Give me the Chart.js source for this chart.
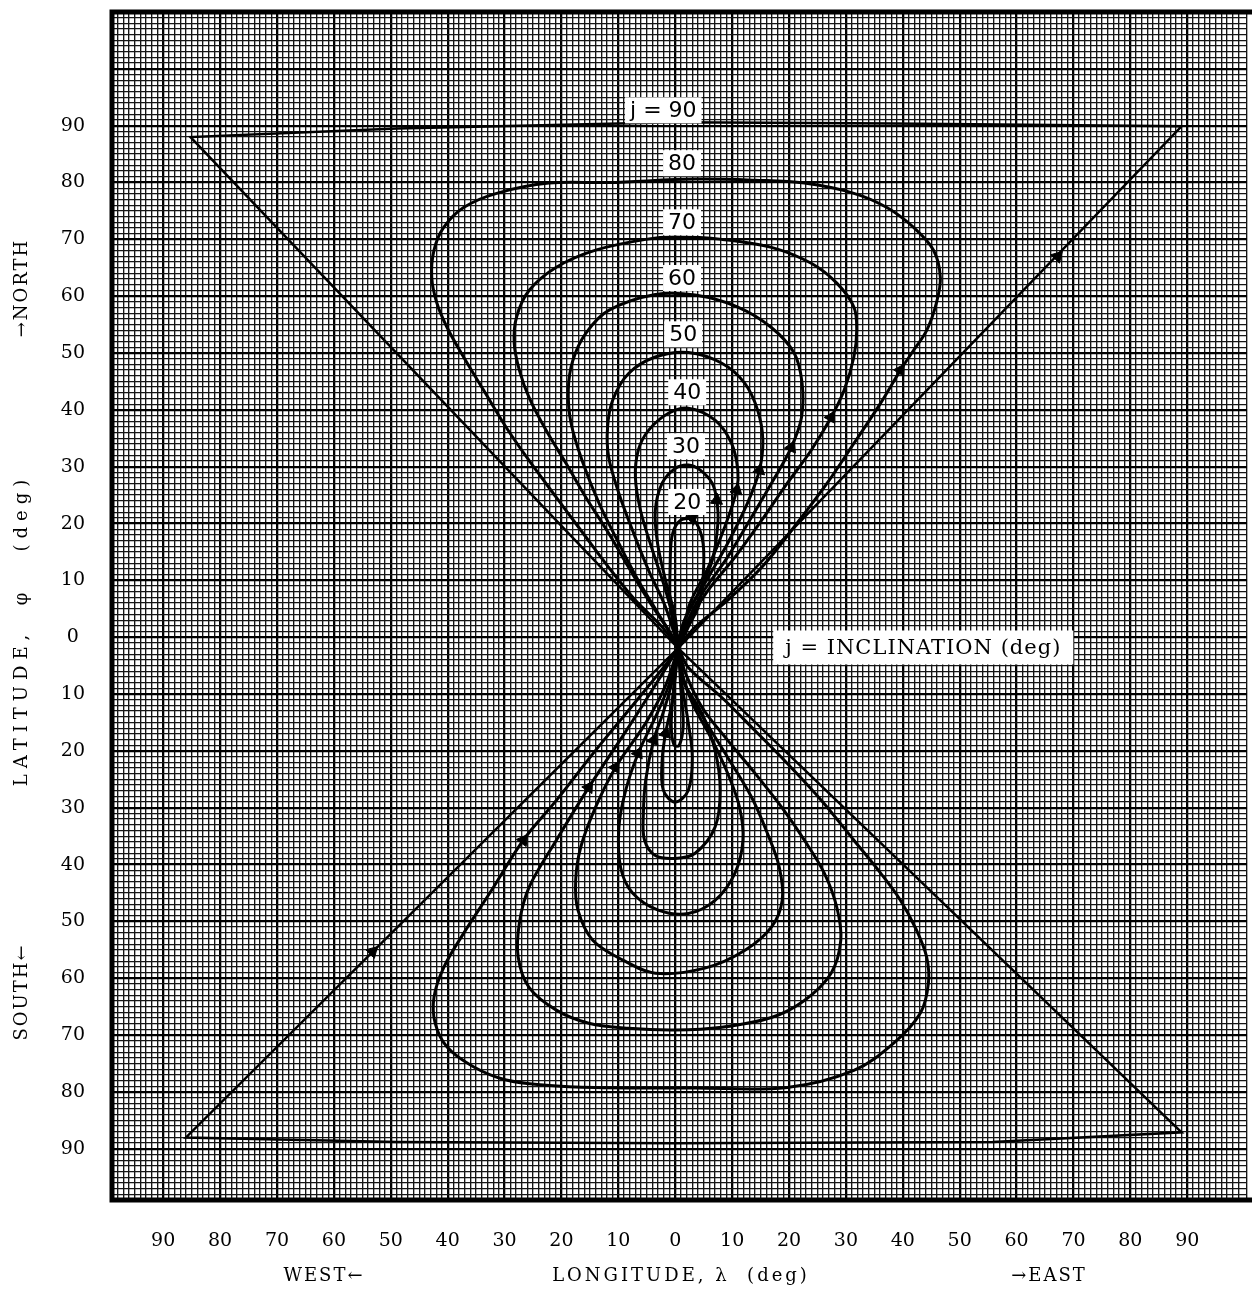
<!DOCTYPE html>
<html>
<head>
<meta charset="utf-8">
<script src="https://cdn.jsdelivr.net/npm/chart.js@4.4.1/dist/chart.umd.min.js"></script>
<style>
  html, body { margin: 0; padding: 0; background: #fff; }
  #wrap { width: 1255px; height: 1292px; }
</style>
</head>
<body>
<div id="wrap"><canvas id="trackChart" width="1255" height="1292"></canvas></div>
<script>
// ground tracks for each inclination j, points are [longitude, latitude] in deg
// (east and north positive)
const inclinations = [90, 80, 70, 60, 50, 40, 30, 20];

const track90 = [
  [0.5, -1.9], [89.0, 89.9], [38.4, 90.4], [0, 90.6], [-48.9, 89.5], [-85.2, 88.0],
  [0.5, -1.9], [89.0, -87.1], [55.8, -88.8], [0, -89.0], [-48.9, -88.8], [-86.0, -88.0],
  [0.5, -1.9]
];
const track80 = [
  [0.5, -1.9], [3.5, 1.8], [9.2, 6.5], [15.2, 12.3], [20.9, 19.4], [26.7, 27.1], [31.4, 34.1],
  [36.1, 41.2], [39.6, 47.0], [41.9, 50.5], [44.2, 54.0], [45.9, 58.8], [46.6, 63.3], [45.4, 68.1],
  [41.9, 72.1], [37.2, 75.6], [31.4, 78.1], [22.7, 79.9], [14.0, 80.4], [3.5, 80.6], [-11.7, 80.0],
  [-22.2, 79.9], [-31.4, 78.1], [-37.2, 75.6], [-40.7, 72.1], [-42.4, 68.1], [-42.8, 63.3],
  [-41.9, 58.8], [-40.1, 54.5], [-37.2, 49.3], [-33.7, 43.5], [-29.7, 36.9], [-25.7, 31.1],
  [-20.9, 24.6], [-16.2, 18.3], [-11.7, 12.3], [-7.0, 6.5], [-2.3, 1.8],
  [0.5, -1.9],
  [2.3, -5.3], [8.2, -10.6], [14.0, -16.4], [19.7, -22.2], [25.7, -28.7], [31.4, -35.7],
  [36.1, -41.5], [39.6, -46.3], [42.4, -51.5], [44.2, -56.3], [44.5, -60.9], [43.1, -66.1],
  [38.4, -71.4], [31.4, -76.2], [19.7, -79.2], [3.5, -79.3], [-14.0, -79.2], [-22.7, -78.8],
  [-29.7, -77.9], [-35.4, -75.6], [-40.1, -72.1], [-42.2, -67.9], [-42.4, -63.3], [-40.7, -58.1],
  [-37.2, -52.1], [-32.6, -45.0], [-26.7, -35.7], [-20.9, -28.7], [-14.0, -19.9], [-7.5, -12.0],
  [-2.3, -5.6], [0.5, -1.9]
];
const track70 = [
  [0.5, -1.9], [2.2, 2.5], [5.8, 8.3], [10.5, 14.1], [15.2, 20.6], [19.7, 27.1], [23.9, 32.9],
  [27.4, 38.7], [29.7, 43.5], [31.4, 49.3], [31.9, 54.0], [31.4, 58.1], [28.4, 62.3], [23.9, 65.8],
  [16.9, 68.6], [8.2, 70.0], [0, 70.4], [-5.2, 70.0], [-14.0, 68.1], [-20.9, 65.1], [-25.7, 61.0],
  [-27.9, 56.3], [-28.3, 51.7], [-27.4, 47.0], [-25.7, 42.2], [-22.7, 36.4], [-19.2, 30.6],
  [-15.7, 24.6], [-11.7, 18.3], [-8.2, 12.3], [-4.7, 6.5], [-1.2, 1.2],
  [0.5, -1.9],
  [1.8, -6.3], [4.7, -12.3], [9.2, -18.1], [14.0, -23.9], [18.7, -29.9], [22.7, -35.7],
  [26.2, -41.5], [28.4, -47.5], [29.1, -53.3], [27.4, -59.1], [22.7, -63.9], [16.9, -66.9],
  [8.2, -68.6], [0, -69.1], [-8.2, -68.8], [-15.2, -67.9], [-20.9, -65.6], [-25.7, -61.6],
  [-27.6, -56.3], [-27.4, -50.3], [-25.7, -44.0], [-20.9, -35.7], [-15.2, -26.4], [-8.2, -15.8],
  [-3.0, -7.6], [0.5, -1.9]
];
const track60 = [
  [0.5, -1.9], [2.0, 2.5], [4.7, 7.7], [9.2, 14.1], [13.4, 21.1], [17.5, 28.1], [20.4, 33.4],
  [22.2, 38.7], [22.3, 44.7], [20.9, 50.0], [16.9, 54.5], [11.0, 58.1], [3.5, 60.2], [-3.5, 60.3],
  [-11.7, 57.5], [-15.7, 53.5], [-18.0, 48.7], [-18.8, 43.5], [-18.3, 37.6], [-16.2, 30.6],
  [-13.4, 23.6], [-9.9, 16.5], [-6.5, 10.0], [-3.0, 4.2],
  [0.5, -1.9],
  [1.6, -8.1], [5.2, -14.6], [9.2, -21.1], [13.4, -28.1], [16.2, -34.5], [18.3, -40.5],
  [18.8, -46.3], [16.9, -51.0], [12.2, -55.1], [5.2, -58.2], [-3.5, -59.1], [-9.2, -56.8],
  [-14.5, -53.3], [-17.1, -48.0], [-17.5, -42.8], [-16.6, -36.9], [-14.0, -29.9], [-10.5, -22.9],
  [-5.2, -15.1], [-1.7, -8.5], [0.5, -1.9]
];
const track50 = [
  [0.5, -1.9], [1.6, 3.0], [5.2, 9.5], [9.2, 16.5], [12.7, 23.6], [14.8, 29.4], [15.4, 34.7],
  [14.5, 39.9], [12.2, 44.7], [8.2, 48.2], [2.3, 50.1], [-3.5, 49.3], [-8.2, 46.4], [-11.0, 41.7],
  [-11.9, 36.9], [-11.7, 31.7], [-9.9, 25.3], [-7.5, 18.8], [-4.7, 11.8], [-1.7, 5.3],
  [0.5, -1.9],
  [1.4, -7.0], [3.0, -11.6], [6.5, -18.1], [9.2, -23.9], [11.3, -29.9], [11.9, -35.7],
  [10.5, -41.5], [7.0, -46.3], [2.3, -48.6], [-3.0, -48.0], [-7.5, -45.0], [-9.6, -40.5],
  [-9.9, -33.4], [-8.7, -26.9], [-6.5, -20.4], [-3.0, -13.0], [-0.8, -7.5], [0.5, -1.9]
];
const track40 = [
  [0.5, -1.9], [1.4, 1.2], [2.6, 6.0], [5.8, 12.3], [8.7, 19.4], [10.8, 25.9], [11.0, 29.4],
  [9.9, 34.1], [7.0, 38.2], [2.3, 40.3], [-1.2, 39.4], [-4.7, 36.4], [-6.5, 32.9], [-7.0, 28.1],
  [-6.1, 22.3], [-4.0, 15.3], [-1.7, 8.3], [-0.2, 2.5],
  [0.5, -1.9],
  [1.4, -7.6], [4.7, -13.4], [7.0, -19.9], [7.9, -26.9], [7.0, -33.4], [3.5, -38.0], [0, -38.9],
  [-3.5, -38.4], [-5.4, -35.7], [-5.6, -31.0], [-5.2, -25.2], [-3.8, -18.1], [-2.1, -13.2],
  [-0.5, -7.6], [0.5, -1.9]
];
const track30 = [
  [0.5, -1.9], [1.2, 1.8], [4.0, 7.7], [6.5, 13.5], [7.5, 20.1], [7.3, 24.1], [6.5, 27.1],
  [4.4, 29.4], [2.3, 30.3], [0, 29.7], [-2.3, 27.1], [-3.5, 22.3], [-3.1, 16.5], [-1.7, 10.0],
  [0, 3.5],
  [0.5, -1.9],
  [1.2, -8.4], [2.3, -15.1], [3.0, -21.1], [2.3, -26.9], [0, -29.0], [-2.1, -26.9], [-2.3, -21.6],
  [-1.7, -16.9], [-0.5, -11.1], [0.5, -1.9]
];
const track20 = [
  [0.5, -1.9], [2.4, 2.0], [4.2, 5.8], [4.9, 10.6], [4.9, 16.5], [3.7, 20.1], [2.3, 20.9],
  [0.5, 20.2], [-0.6, 17.6], [-0.9, 12.3], [-0.9, 6.5], [-0.3, 2.0],
  [0.5, -1.9],
  [1.0, -9.3], [1.4, -15.5], [0.7, -19.0], [-0.2, -19.0], [-0.7, -15.5], [-0.3, -9.3], [0.5, -1.9]
];

// direction arrows drawn on the tracks
const arrowPoints = [
  [67.2, 67.0], [39.6, 47.0], [27.4, 38.7], [20.4, 33.4], [14.8, 29.4], [10.8, 25.9], [7.3, 24.1], [3.0, 20.9],
  [-53.2, -55.3], [-26.7, -35.7], [-15.2, -26.4], [-10.5, -22.9], [-6.5, -20.4], [-3.8, -18.1], [-1.7, -16.9]
];
const arrowHeading = [44, 32, 29, 24, 13, 13, 5, -70, 45, 36, 33, 31, 26, 21, 15];

// axis tick labels (absolute values are printed)
const lonTicks = [-90, -80, -70, -60, -50, -40, -30, -20, -10, 0, 10, 20, 30, 40, 50, 60, 70, 80, 90];
const latTicks = [-90, -80, -70, -60, -50, -40, -30, -20, -10, 0, 10, 20, 30, 40, 50, 60, 70, 80, 90];

// curve labels
const curveLabels = ['j = 90', '80', '70', '60', '50', '40', '30', '20'];
const labelLon = [-2.1, 1.2, 1.2, 1.2, 1.4, 2.1, 1.9, 2.1];
const labelLat = [92.7, 83.4, 73.0, 63.2, 53.3, 43.1, 33.6, 23.8];

const tracks = [track90, track80, track70, track60, track50, track40, track30, track20];

const datasets = tracks.map((t, i) => ({
  label: 'j = ' + inclinations[i],
  data: t.map(p => ({x: p[0], y: p[1]})),
  showLine: true,
  borderColor: '#000',
  borderWidth: inclinations[i] === 90 ? 2.5 : 3,
  tension: inclinations[i] === 90 ? 0 : 0.35,
  pointRadius: 0,
  fill: false
}));
datasets.push({
  label: 'arrows',
  data: arrowPoints.map(p => ({x: p[0], y: p[1]})),
  showLine: false,
  pointStyle: 'triangle',
  pointRadius: 7,
  rotation: arrowHeading,
  backgroundColor: '#000',
  borderColor: '#000',
  borderWidth: 1
});

const serif = '"DejaVu Serif", "Liberation Serif", serif';

const gridColor = ctx => (ctx.tick && ctx.tick.value % 10 === 0) ? '#000' : '#151515';
const gridWidth = ctx => (ctx.tick && ctx.tick.value % 10 === 0) ? 2.3 : 1.35;

// keep the graph sheet flush with the canvas edges
const noPad = s => { s.paddingTop = 0; s.paddingBottom = 0; s.paddingLeft = 0; s.paddingRight = 0; };

const paper = {
  id: 'paper',
  afterDatasetsDraw(chart) {
    const {ctx, chartArea: a, scales: {x, y}} = chart;
    ctx.save();
    ctx.textAlign = 'center';
    ctx.textBaseline = 'middle';
    ctx.font = '22px "DejaVu Sans", sans-serif';
    curveLabels.forEach((txt, i) => {
      const px = x.getPixelForValue(labelLon[i]);
      const py = y.getPixelForValue(labelLat[i]);
      const w = ctx.measureText(txt).width + 10;
      ctx.fillStyle = '#fff';
      ctx.fillRect(px - w / 2, py - 13, w, 26);
      ctx.fillStyle = '#000';
      ctx.fillText(txt, px, py + 1);
    });
    // legend note
    ctx.font = '21px ' + serif;
    ctx.letterSpacing = '1px';
    const note = 'j = INCLINATION (deg)';
    const nx = x.getPixelForValue(43.6), ny = y.getPixelForValue(-1.8);
    const nw = ctx.measureText(note).width + 24;
    ctx.fillStyle = '#fff';
    ctx.fillRect(nx - nw / 2, ny - 17, nw, 34);
    ctx.fillStyle = '#000';
    ctx.fillText(note, nx, ny + 1);
    ctx.letterSpacing = '0px';
    // heavy frame of the graph sheet
    ctx.lineWidth = 5;
    ctx.strokeStyle = '#000';
    ctx.beginPath();
    ctx.moveTo(a.right + 5, a.top);
    ctx.lineTo(a.left, a.top);
    ctx.lineTo(a.left, a.bottom);
    ctx.lineTo(a.right + 5, a.bottom);
    ctx.stroke();
    ctx.restore();
  },
  afterDraw(chart) {
    const {ctx} = chart;
    ctx.save();
    ctx.fillStyle = '#000';
    ctx.font = '18px ' + serif;
    ctx.textAlign = 'center';
    ctx.textBaseline = 'middle';
    ctx.letterSpacing = '2px';
    ctx.fillText('WEST\u2190', 324, 1276);
    ctx.fillText('\u2192EAST', 1049, 1276);
    ctx.letterSpacing = '3px';
    ctx.fillText('LONGITUDE, \u03bb  (deg)', 681, 1276);
    const vert = (txt, cy) => {
      ctx.save();
      ctx.translate(22, cy);
      ctx.rotate(-Math.PI / 2);
      ctx.fillText(txt, 0, 0);
      ctx.restore();
    };
    ctx.letterSpacing = '2px';
    vert('\u2192NORTH', 288);
    vert('SOUTH\u2190', 992);
    ctx.letterSpacing = '6px';
    vert('LATITUDE,  \u03c6   (deg)', 630);
    ctx.restore();
  }
};

new Chart(document.getElementById('trackChart').getContext('2d'), {
  type: 'scatter',
  data: {datasets},
  options: {
    responsive: false,
    animation: false,
    devicePixelRatio: 1,
    layout: {padding: {top: 12, right: 0, left: 0, bottom: 0}},
    plugins: {legend: {display: false}, tooltip: {enabled: false}},
    scales: {
      x: {
        type: 'linear',
        min: -99,
        max: 100.5,
        afterFit: s => { s.height = 92; noPad(s); },
        border: {display: false},
        grid: {color: gridColor, lineWidth: gridWidth, drawTicks: false},
        ticks: {
          stepSize: 1,
          autoSkip: false,
          maxRotation: 0,
          padding: 30,
          color: '#000',
          font: {family: serif, size: 19},
          callback: v => lonTicks.includes(v) ? String(Math.abs(v)) : ''
        }
      },
      y: {
        type: 'linear',
        min: -99,
        max: 110,
        afterFit: s => { s.width = 112; noPad(s); },
        border: {display: false},
        grid: {color: gridColor, lineWidth: gridWidth, drawTicks: false},
        ticks: {
          stepSize: 1,
          autoSkip: false,
          padding: 27,
          crossAlign: 'center',
          color: '#000',
          font: {family: serif, size: 19},
          callback: v => latTicks.includes(v) ? String(Math.abs(v)) : ''
        }
      }
    }
  },
  plugins: [paper]
});
</script>
</body>
</html>
